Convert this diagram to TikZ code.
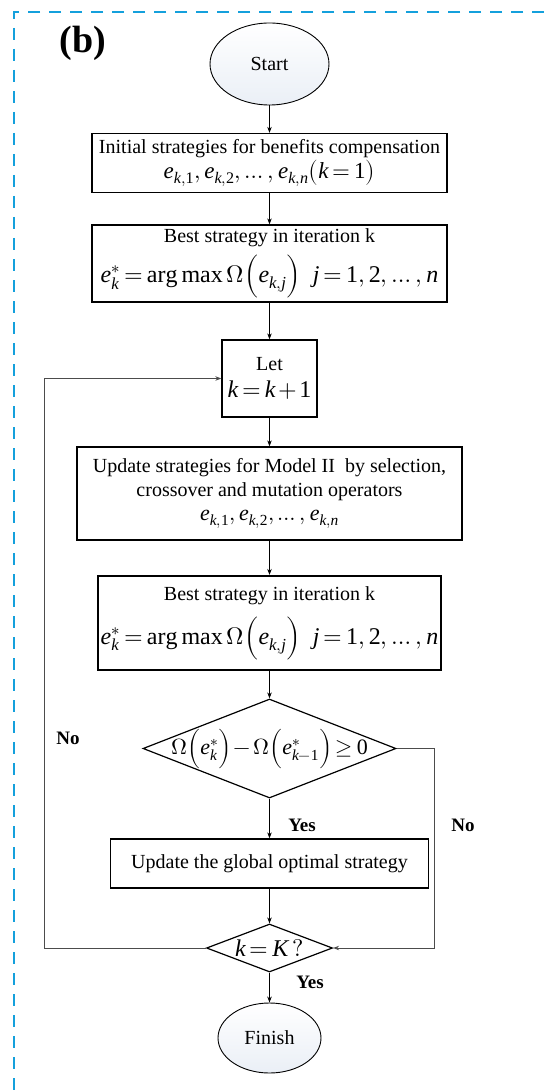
\documentclass[tikz,border=0pt]{standalone}
\usepackage{fontspec}
\usepackage{unicode-math}
\setmainfont{Liberation Serif}
\setmathfont{Latin Modern Math}
\setmathfont{Liberation Serif Italic}[range={it/{Latin,latin}}]
\setmathfont{Liberation Serif}[range={up/{num}}]
\usetikzlibrary{shapes.geometric,arrows.meta}
\definecolor{bordercyan}{RGB}{20,160,220}
\definecolor{ellfill}{RGB}{234,239,246}
\thickmuskip=3mu plus 2mu
\medmuskip=2mu plus 1mu
\begin{document}
\begin{tikzpicture}[x=1pt,y=-1pt,
  box/.style={draw=black, line width=1.3pt, rectangle, inner sep=0pt, align=center, font=\fontsize{20}{24}\selectfont},
  term/.style={draw=black, line width=0.9pt, ellipse, top color=white, bottom color=ellfill, inner sep=0pt, font=\fontsize{20}{24}\selectfont},
  decision/.style={draw=black, line width=1.2pt, diamond, inner sep=0pt, fill=white},
  flow/.style={-{Stealth[length=6pt,width=4.5pt]}, line width=0.8pt},
  loopline/.style={draw=black!70, line width=1pt, -{Stealth[length=6pt,width=4.5pt]}},
  lbl/.style={font=\fontsize{19}{22}\selectfont\bfseries}
]
\useasboundingbox (0,0) rectangle (544,1091);
\fill[white] (0,0) rectangle (544,1091);
\draw[bordercyan, line width=1.8pt, dash pattern=on 12pt off 9pt] (544,12) -- (14,12) -- (14,1091);

\node[font=\fontsize{38}{44}\selectfont\bfseries] (lab) at (83,43) {(b)};

\node[term, minimum width=119pt, minimum height=82pt] (start) at (269.5,64) {Start};

\node[box, minimum width=355pt, minimum height=59pt] (b1) at (269.5,163)
  {Initial strategies for benefits compensation\\[1pt]
   {\fontsize{23}{25}\selectfont $e_{k,1},e_{k,2},\ldots,e_{k,n}\bigl(k=1\bigr)$}};

\node[box, minimum width=355pt, minimum height=77pt] (b2) at (269.5,263.5)
  {Best strategy in iteration k\\[7pt]
   {\fontsize{24}{28}\selectfont $e_k^{*}=\arg\max\Omega\Bigl(e_{k,j}\Bigr)\ \ j=1,2,\ldots,n$}};

\node[box, minimum width=95pt, minimum height=77pt] (let) at (269.5,378.5)
  {Let\\[3pt] {\fontsize{24}{28}\selectfont $k=k+1$}};

\node[box, minimum width=385pt, minimum height=93pt] (b4) at (269.5,493.5)
  {Update strategies for Model II\ \ by selection,\\
   crossover and mutation operators\\
   {\fontsize{22}{24}\selectfont $e_{k,1},e_{k,2},\ldots,e_{k,n}$}};

\node[box, line width=2.2pt, minimum width=343pt, minimum height=94pt] (b5) at (269.5,623)
  {Best strategy in iteration k\\[11pt]
   {\fontsize{24}{28}\selectfont $e_k^{*}=\arg\max\Omega\Bigl(e_{k,j}\Bigr)\ \ j=1,2,\ldots,n$}};

\node[decision, minimum width=253pt, minimum height=99pt] (d1) at (269.5,748.5)
  {\makebox[0pt]{\fontsize{22}{26}\selectfont $\Omega\Bigl(e_k^{*}\Bigr)-\Omega\Bigl(e_{k-1}^{*}\Bigr)\ge 0$}};

\node[box, minimum width=318pt, minimum height=49pt] (b6) at (269.5,863.5)
  {Update the global optimal strategy};

\node[decision, minimum width=126pt, minimum height=48pt] (d2) at (269.5,948)
  {\makebox[0pt]{\fontsize{24}{26}\selectfont $k=K\,?$}};

\node[term, minimum width=103pt, minimum height=70pt] (fin) at (269.5,1038) {Finish};

\draw[flow] (start) -- (b1);
\draw[flow] (b1) -- (b2);
\draw[flow] (b2) -- (let);
\draw[flow] (let) -- (b4);
\draw[flow] (b4) -- (b5);
\draw[flow] (b5) -- (d1);
\draw[flow] (d1) -- (b6);
\draw[flow] (b6) -- (d2);
\draw[flow] (d2) -- (fin);
\draw[loopline] (d1.east) -- ++(38,0) |- (d2.east);
\draw[loopline] (d2.west) -- ++(-161,0) |- (let.west);

\node[lbl] (no1) at (68,738) {No};
\node[lbl] (no2) at (463,825) {No};
\node[lbl] (yes1) at (302,825) {Yes};
\node[lbl] (yes2) at (310,982) {Yes};
\end{tikzpicture}
\end{document}
